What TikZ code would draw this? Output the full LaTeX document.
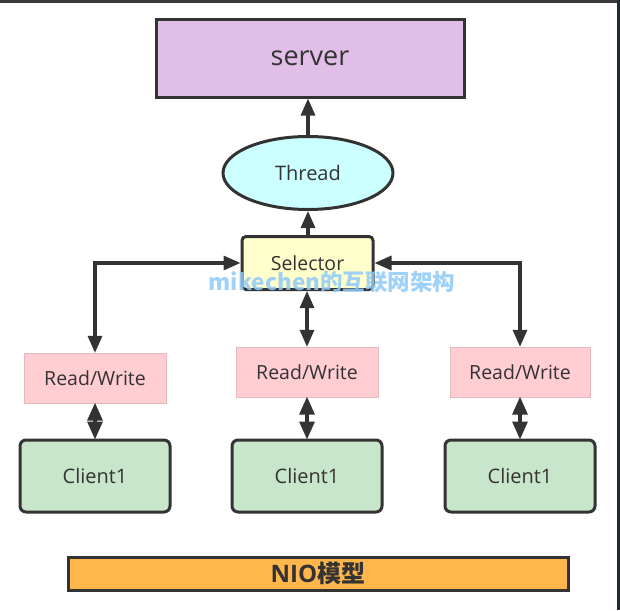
\documentclass[tikz,border=0pt]{standalone}
\usepackage{fontspec}
\setmainfont{Open Sans}
\newfontfamily\cjk{Noto Sans CJK SC}
\usetikzlibrary{arrows.meta,shapes.geometric}
\definecolor{ink}{HTML}{333333}
\definecolor{serverc}{HTML}{E1BEE7}
\definecolor{threadc}{HTML}{CCFFFF}
\definecolor{selc}{HTML}{FFFFCC}
\definecolor{rwc}{HTML}{FFCDD2}
\definecolor{clientc}{HTML}{C8E6C9}
\definecolor{nioc}{HTML}{FFB74D}
\definecolor{wmark}{HTML}{90CAF9}
\definecolor{topbar}{HTML}{3A3A3A}
\definecolor{sidebar}{HTML}{1E2A36}
\tikzset{
  box/.style={draw=ink, line width=3pt, inner sep=0pt, text=ink},
  rwbox/.style={fill=rwc, draw=rwc!90!black, line width=0.3pt, inner sep=0pt, text=ink, minimum height=50pt,
    font=\fontsize{19.5}{22}\selectfont},
  clientbox/.style={box, fill=clientc, rounded corners=6pt, minimum width=150pt, minimum height=72pt,
    font=\fontsize{20}{22}\selectfont},
  conn/.style={draw=ink, line width=3.2pt},
  tip/.style={-{Triangle[length=17pt,width=14pt]}},
  btip/.style={{Triangle[length=17pt,width=14pt]}-{Triangle[length=17pt,width=14pt]}},
  dtip/.style={{Triangle[length=18pt,width=15pt]}-{Triangle[length=18pt,width=15pt]}, shorten <=-0.5pt, shorten >=-1pt}
}
\begin{document}
\begin{tikzpicture}[x=1pt,y=-1pt]
\useasboundingbox (0,0) rectangle (620,610);
\fill[white] (0,0) rectangle (620,610);
\fill[topbar] (0,0) rectangle (620,3);
\fill[sidebar] (617,0) rectangle (620,610);

\node[box, fill=serverc, minimum width=308pt, minimum height=77pt, font=\fontsize{27}{30}\selectfont] (server) at (310,58.5) {server};
\node[box, ellipse, fill=threadc, minimum width=170pt, minimum height=73pt, font=\fontsize{20}{22}\selectfont] (thread) at (308,173) {Thread};
\node[box, fill=selc, rounded corners=4pt, minimum width=131pt, minimum height=53pt, font=\fontsize{19.5}{22}\selectfont] (sel) at (307.5,263) {Selector};

\node[rwbox, minimum width=142pt] (rw1) at (95,378) {Read/Write};
\node[rwbox, minimum width=142pt] (rw2) at (307,372) {Read/Write};
\node[rwbox, minimum width=140pt] (rw3) at (520,372) {Read/Write};

\node[clientbox] (c1) at (95,476) {Client1};
\node[clientbox] (c2) at (307,476) {Client1};
\node[clientbox] (c3) at (520,476) {Client1};

\node[box, fill=nioc, minimum width=500pt, minimum height=33pt, font=\fontsize{24}{26}\selectfont\bfseries] (nio) at (318,573.5) {NIO{\cjk\bfseries 模型}};

\draw[conn, tip] (thread.north) -- (thread.north |- server.south);
\draw[conn, tip] (sel.north -| thread.south) -- (thread.south);
\draw[conn, btip] (rw1.north) |- (sel.west);
\draw[conn, btip] (rw3.north) |- (sel.east);
\draw[conn, btip] (sel.south -| rw2.north) -- (rw2.north);
\draw[conn, dtip] (rw1.south) -- (c1.north);
\draw[conn, dtip] (rw2.south) -- (c2.north);
\draw[conn, dtip] (rw3.south) -- (c3.north);

\node[text=wmark, opacity=0.85, font=\cjk\bfseries\fontsize{22.5}{25}\selectfont] (wm) at (332,282) {mikechen的互联网架构};
\end{tikzpicture}
\end{document}
